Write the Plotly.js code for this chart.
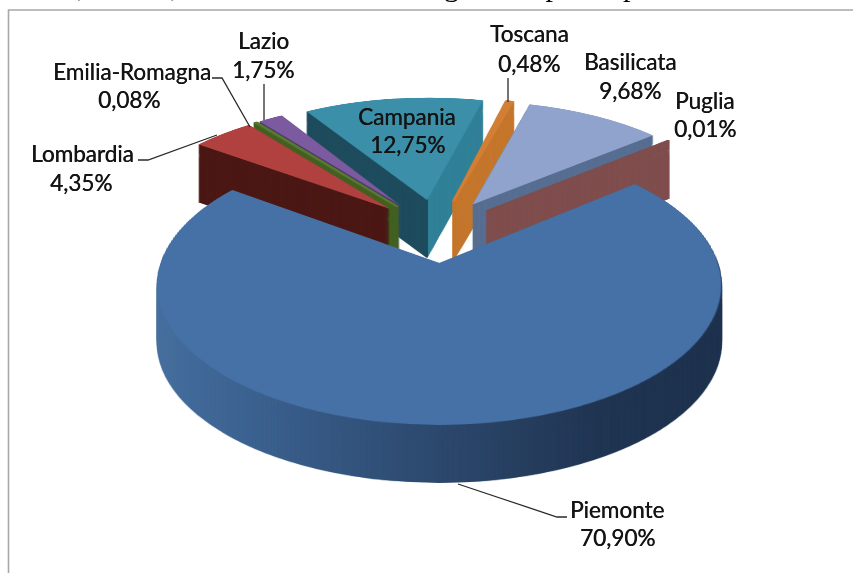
<!DOCTYPE html>
<html><head><meta charset="utf-8">
<script src="https://cdn.plot.ly/plotly-3.0.1.min.js"></script>
<style>
html,body{margin:0;padding:0;background:#fff;overflow:hidden}
#wrap{position:relative;width:853px;height:573px;overflow:hidden}
#pie,#over{position:absolute;left:0;top:0;width:853px;height:573px}
#pie{filter:blur(0.6px)}
#over{filter:blur(0.35px)}
</style></head><body>
<div id="wrap"><div id="pie"></div><div id="over"></div></div>
<svg width="0" height="0" style="position:absolute"><defs>
<linearGradient id="gPiemonte" x1="0" x2="1" y1="0" y2="0">
<stop offset="0" stop-color="#456f9f"/><stop offset="0.2" stop-color="#3a6190"/><stop offset="0.5" stop-color="#2b476c"/><stop offset="0.75" stop-color="#1e3350"/><stop offset="1" stop-color="#1a2e4b"/></linearGradient>
<linearGradient id="gCampania" x1="0" x2="1" y1="0" y2="0">
<stop offset="0.69" stop-color="#1c4a5c"/><stop offset="0.69" stop-color="#2e8097"/></linearGradient>
</defs></svg>
<script>
const regions = ['Piemonte','Lombardia','Emilia-Romagna','Lazio','Campania','Toscana','Basilicata','Puglia'];
const shares = [70.90,4.35,0.08,1.75,12.75,0.48,9.68,0.01];
const shareText = ['70,90%','4,35%','0,08%','1,75%','12,75%','0,48%','9,68%','0,01%'];
const topColors = ['#4571a6','#b1413e','#58782f','#7b5aa0','#3b8fa9','#d27f35','#8fa3cc','#7f4c4c'];
const sideColors = ['url(#gPiemonte)','#4a1613','#41601f','#4a3366','url(#gCampania)','#c4752a','#566d91','#7f4c4c'];
const edgeWidths = [0,0,3,0,0,2,0,2.4];
const labelPos = [[617,509,617,537],[82,153,81,182],[132,71,129,99],[263,41,263,70],[407,116,407,144],[529,34,529,63],[630,62,630,90],[705,101,705,129]];
const leaders = [
 [[458,484],[557,517],[567,517]],
 [[138,160],[148,160],[217,135]],
 [[212,78],[222,78],[250,127]],
 [[264,84],[264,120]],
 [[508,78],[508,102]]
];
const W=853,H=573;
const startAngle=50.5, explode=0.25, depth=58, step=0.5;
// perspective view of the pie plane
const R=Math.min(W,H)/2/(1+explode), cu=W/2, cv=H/2;
const tipX=439.5,tipY=263,A=136.5,B=278.5,t=0.157,px=0.0087,py=explode;
function viewMatrix(){
  const w0=1+t*py+t*cv/R, wv=-t/R;            // w = w0 + wv*v
  const a=B/R, e=tipX*w0-B*(cu/R+px), c=tipX*wv;
  const d=tipY*wv+A/R, f=tipY*w0-A*(cv/R+py);
  return `matrix3d(${a},0,0,0, ${c},${d},0,${wv}, 0,0,1,0, ${e},${f},0,${w0})`;
}
const trace={type:'pie',labels:regions,values:shares,sort:false,direction:'clockwise',rotation:startAngle,
  pull:explode,textinfo:'none',hoverinfo:'none',showlegend:false,
  marker:{colors:topColors,line:{color:topColors,width:edgeWidths}}};
const base={width:W,height:H,margin:{l:0,r:0,t:0,b:0},paper_bgcolor:'rgba(0,0,0,0)',plot_bgcolor:'rgba(0,0,0,0)',showlegend:false};
const pieDiv=document.getElementById('pie');
Plotly.newPlot(pieDiv,[trace],base,{displayModeBar:false,staticPlot:true}).then(()=>{
  const svg=pieDiv.querySelector('.main-svg');
  const M=viewMatrix();
  const host=svg.parentNode;
  for(let k=depth;k>=step;k-=step){
    const c=svg.cloneNode(true);
    c.querySelectorAll('.slice path.surface').forEach((p,i)=>{
      p.style.fill=sideColors[i];
      if(edgeWidths[i]>0)p.style.stroke=sideColors[i];
    });
    c.style.transformOrigin='0 0';
    c.style.transform=`translateY(${k}px) ${M}`;
    host.insertBefore(c,svg);
  }
  svg.style.transformOrigin='0 0';
  svg.style.transform=M;
});
// labels, frame, leader lines
const fx=x=>x/W, fy=y=>1-y/H;
const annotations=[];
regions.forEach((r,i)=>{
  const p=labelPos[i];
  [[r,p[0],p[1]],[shareText[i],p[2],p[3]]].forEach(([txt,x,y])=>annotations.push({text:txt,x:fx(x),y:fy(y),xref:'paper',yref:'paper',xanchor:'center',yanchor:'middle',showarrow:false,font:{family:'Lato, sans-serif',size:22.5,color:'#141414',shadow:'0.4px 0 0 #141414'}}));
});
annotations.push({text:'ori, invece, sono dati in una rassegna con più importanti.',x:fx(42),y:fy(-14.5),xref:'paper',yref:'paper',xanchor:'left',yanchor:'middle',showarrow:false,font:{family:'Liberation Serif, serif',size:30,color:'#000'}});
const shapes=leaders.map(pts=>({type:'path',xref:'paper',yref:'paper',path:pts.map((q,i)=>(i?'L':'M')+fx(q[0])+','+fy(q[1])).join(' '),line:{color:'#2a2a2a',width:1.3}}));
shapes.push({type:'path',xref:'paper',yref:'paper',path:`M${fx(8.5)},${fy(573)} L${fx(8.5)},${fy(10)} L${fx(853)},${fy(10)}`,line:{color:'#a8a8a8',width:1.6}});
Plotly.newPlot('over',[],Object.assign({},base,{annotations,shapes,xaxis:{visible:false},yaxis:{visible:false}}),{displayModeBar:false,staticPlot:true});
</script></body></html>
